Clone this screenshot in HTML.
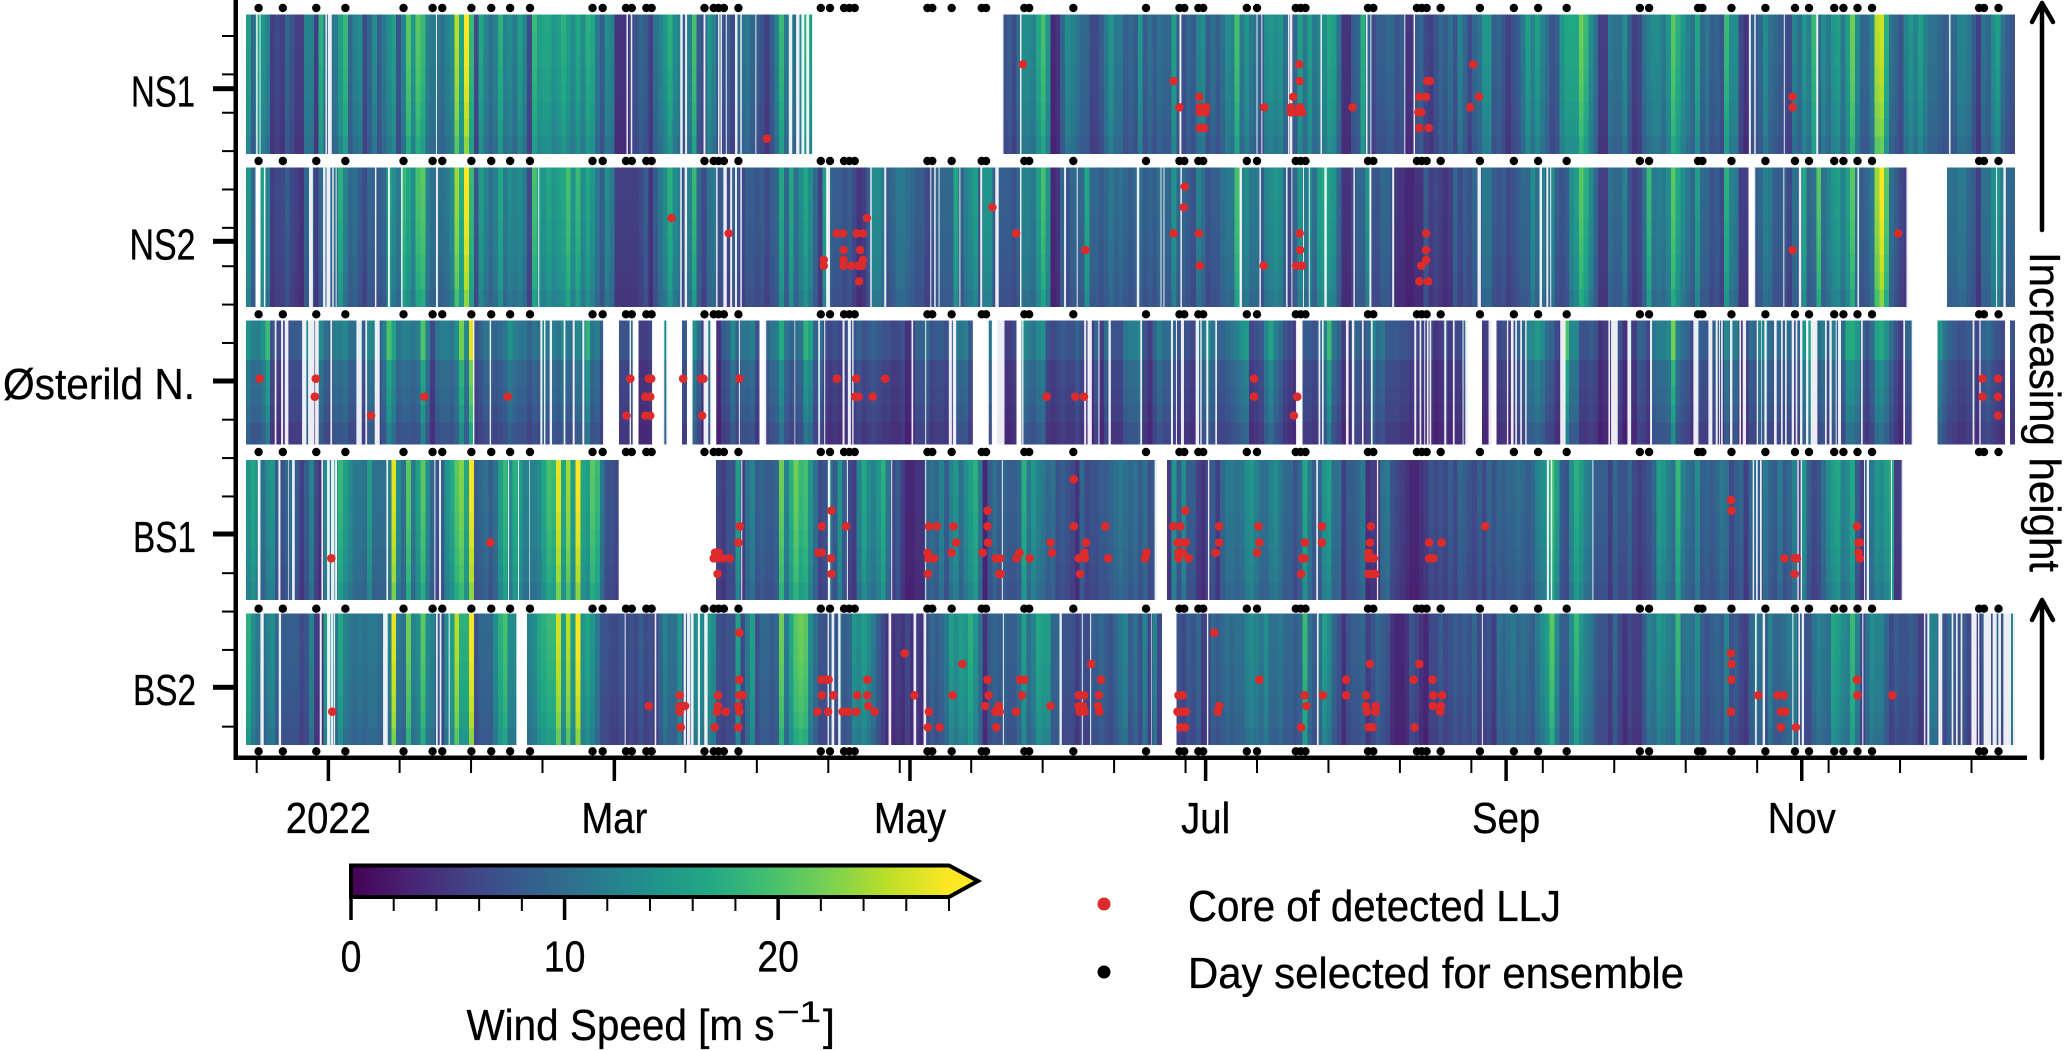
<!DOCTYPE html>
<html lang="en">
<head>
<meta charset="utf-8">
<title>Wind speed at five sites, 2022</title>
<style>
html,body{margin:0;padding:0;background:#fff;}
svg{display:block;}
text{font-family:"Liberation Sans",sans-serif;fill:#000;stroke:#000;stroke-width:0.35;}
</style>
</head>
<body>
<svg id="chart" xmlns="http://www.w3.org/2000/svg" width="2066" height="1051" viewBox="0 0 2066 1051">
  <defs>
    <linearGradient id="cbar-gradient" gradientUnits="userSpaceOnUse" x1="351" y1="0" x2="949" y2="0"></linearGradient>
  </defs>
  <g id="panels"></g>
  <g id="axes">
    <rect x="233.5" y="0" width="4.5" height="760" fill="#000"/>
    <rect x="233.5" y="755.5" width="1793.5" height="4.5" fill="#000"/>
    <text x="131" y="106.5" font-size="44" textLength="64" lengthAdjust="spacingAndGlyphs">NS1</text>
    <text x="129.5" y="259.5" font-size="44" textLength="66" lengthAdjust="spacingAndGlyphs">NS2</text>
    <text x="3" y="399" font-size="44" textLength="192" lengthAdjust="spacingAndGlyphs">Østerild N.</text>
    <text x="133" y="552" font-size="44" textLength="63" lengthAdjust="spacingAndGlyphs">BS1</text>
    <text x="133" y="705" font-size="44" textLength="63" lengthAdjust="spacingAndGlyphs">BS2</text>
  </g>
  <g>
    <path d="M2042 230 V3 M2032 22 L2042 3 L2053 22" fill="none" stroke="#000" stroke-width="4.5" stroke-linecap="round" stroke-linejoin="round"/>
    <path d="M2042 758 V600 M2032 620 L2042 600 L2053 620" fill="none" stroke="#000" stroke-width="4.5" stroke-linecap="round" stroke-linejoin="round"/>
    <text transform="translate(2030,252) rotate(90)" font-size="44" textLength="320" lengthAdjust="spacingAndGlyphs">Increasing height</text>
  </g>
  <g id="colorbar">
    <polygon points="351,865.5 949,865.5 978,881 949,897 351,897" fill="url(#cbar-gradient)" stroke="#000" stroke-width="4"/>
    <text x="466.5" y="1040" font-size="44" textLength="308" lengthAdjust="spacingAndGlyphs">Wind Speed [m s</text>
    <text x="777" y="1022" font-size="30" textLength="44" lengthAdjust="spacingAndGlyphs">−1</text>
    <text x="823" y="1040" font-size="44" textLength="12" lengthAdjust="spacingAndGlyphs">]</text>
  </g>
  <g>
    <circle cx="1104" cy="904" r="6.5" fill="#dd2a2a"/>
    <text x="1188" y="921" font-size="44" textLength="373" lengthAdjust="spacingAndGlyphs">Core of detected LLJ</text>
    <circle cx="1104" cy="972" r="6.5" fill="#000"/>
    <text x="1188" y="988" font-size="44" textLength="496" lengthAdjust="spacingAndGlyphs">Day selected for ensemble</text>
  </g>
</svg>
<script>
const _ = null;

/* Wind speed [m/s], one value per day, starting 17 days before 1 Jan 2022 */
const windNS1 = [
15,9,16,14,12,5,6,5,9,7, 5,5,12,12,5,17,10,10,11,15, 18,9,12,13,6,9,13,8,11,13, 15,7,12,20,14,20,18,12,11,11,
10,12,13,24,16,27,18,6,16,12, 10,12,17,12,13,11,15,12,6,18, 15,16,16,14,15,17,15,13,16,13, 17,16,11,8,13,12,4,4,4,6,
7,9,8,5,10,12,14,17,13,12, 8,12,19,8,6,14,12,8,7,8, 6,10,10,11,9,8,7,5,8,12, 18,11,12,10,13,17,15,
_,_,_, _,_,_,_,_,_,_,_,_,_, _,_,_,_,_,_,_,_,_,_, _,_,_,_,_,_,_,_,_,_, _,_,_,_,_,_,
7,8,6,10,13,13,12,16,19,14, 3,4,9,13,12,11,9,9,6,6, 8,11,14,11,11,
8,9,8,14,8,10,8,10,9,9, 15,8,7,9,8,12,13,8,10,8, 10,13,12,19,11,14,11,10,8,13, 14,13,14,10,6,9,15,11,15,11,
12,13,16,15,10,4,4,8,9,17, 9,6,8,8,9,9,7,8,4,4, 8,9,6,5,7,9,8,10,7,12, 9,6,9,10,14,14,8,9,7,5,
7,8,11,15,12,15,12,10,7,8, 14,16,16,16,21,18,13,10,5,5, 11,10,10,13,8,5,6,10,12,13, 13,11,14,20,17,14,12,10,16,9,
11,8,9,7,18,13,13,6,4,8, 8,9,13,10,9,8,7,6,12,10, 14,12,18,9,13,11,14,15,11,15, 21,13,9,9,12,24,25,17,10,9,
7,12,14,12,15,12,10,10,9,8, 9,9,12,12,11,8,5,10,9,13, 15,10,8,7];

const windNS2 = [
14,9,_,15,12,5,6,6,8,6, 5,4,9,10,5,9,9,9,10,17, 12,9,10,8,6,9,8,8,9,16, 13,11,18,16,13,19,20,12,10,10,
10,11,13,23,17,27,18,7,15,12, 10,12,16,11,13,12,13,11,6,19, 15,14,16,14,15,16,19,14,18,13, 16,14,11,8,13,11,5,5,5,5,
5,6,8,4,8,11,13,17,13,12, 7,12,18,9,6,10,11,7,8,6, 8,7,6,8,8,7,8,6,8,9, 16,9,16,10,13,16,13,
9,5,15, 9,8,8,7,8,6,4,5,8,13, 13,11,8,9,11,11,10,9,8,8, 6,7,9,9,9,9,16,8,12,13, 15,8,14,14,8,8,8,
8,7,9,12,12,11,15,19,14, 3,4,9,7,9,9,9,16,9,9, 8,9,11,9,10,
9,8,9,10,8,9,8,10,9,9, 14,9,9,8,7,12,10,7,8,8, 10,11,11,19,12,13,11,11,8,12, 13,14,13,9,6,9,14,11,13,10,
15,16,15,14,9,4,4,6,9,9, 14,7,7,9,9,7,4,4,3,3, 4,4,8,5,6,5,4,5,9,6, 8,7,9,8,11,11,8,7,8,6,
7,8,9,9,13,10,12,9,13,8, 7,8,13,15,20,17,13,9,5,5, 10,9,9,12,7,5,6,10,18,11, 12,11,13,20,16,13,11,9,15,9,
9,7,8,6,17,12,11,5,5,_, 8,9,12,11,8,8,8,6,10,9, 16,9,10,20,10,12,14,15,12,15, 20,10,8,9,11,23,27,20,10,8,
6,5,_,_,_,_,_,_,_,_, 10,10,11,11,9,8,5,10,10,13, 14,11,9,9];

const windOsterild = [
14,12,12,14,19,7,6,6,6,8, 8,8,13,9,6,13,10,9,12,12, 13,10,10,10,8,13,12,8,12,20, 16,11,12,12,11,12,20,12,6,11,
12,12,11,14,22,13,27,7,9,11, 10,9,10,11,14,12,11,11,9,11, 10,13,11,12,11,13,11,10,13,12, 18,11,12,8,_,_,_,7,7,9,
_,5,5,6,_,_,14,_,_,_, 8,_,14,10,5,12,_,4,8,9, 13,9,11,11,12,7,_,9,11,12, 17,11,9,10,11,18,16,9,11,7,
6,7,6,6,8,7,9,7,8,9, 8,7,7,6,6,7,4,5,9,9, 10,7,8,8,7,8,12,11,12,8, _,_,_,11,_,7,5,5,6,_,
13,12,11,13,14,7,6,7,8,7, 7,9,7,6,5,9,5,10,7,7, 7,11,12,12,13,7,5,9,12,10, 10,9,7,7,7,6,11,11,13,11,
9,9,10,11,12,14,15,6,7,8, 13,16,12,10,7,6,5,_,8,8, 7,9,12,19,11,9,5,5,9,9, 7,9,13,10,11,8,8,8,7,7,
6,6,6,6,6,4,5,7,5,6, 6,9,_,_,_,5,5,_,6,7, 5,7,9,9,13,13,15,13,10,9, 6,5,20,13,13,7,7,8,7,4,
5,5,6,7,4,8,5,9,8,6, 11,12,12,13,22,12,10,9,6,10, 8,8,8,10,7,13,11,12,5,6, 10,9,13,12,10,9,10,9,10,7,
9,14,16,10,10,12,8,12,9,10, 17,17,15,9,7,10,16,17,14,10, 7,5,9,9,_,_,_,_,_,14, 11,9,8,7,7,8,7,6,9,10,
8,7,6,_,7];

const windBS1 = [
14,16,13,10,13,14,8,7,9,10, 8,5,8,12,6,4,13,12,12,18, 15,13,11,11,10,15,10,10,10,12, 26,13,10,20,11,15,20,13,9,7,
8,14,16,20,22,16,27,8,9,10, 8,10,15,18,13,17,15,12,12,12, 13,16,19,18,26,16,23,15,27,16, 15,20,18,11,7,7,6,
_,_,_, _,_,_,_,_,_,_,_,_,_, _,_,_,_,_,_,_,
6,5,7,7,15,5,10,12,8,9,8,8,9, 21,12,17,21,18,19,14,10,6,7,
11,8,14,8,6,5,12,16,13,12, 14,17,11,6,8,5,3,3,4,4, 9,10,9,12,8,12,14,10,13,15, 17,11,3,8,10,8,9,8,8,9,
17,11,14,12,11,9,10,7,8,7, 6,4,9,6,7,7,8,8,9,10, 11,10,9,10,8,10,7,8,_,_, 5,14,8,13,8,8,5,4,6,8,
5,9,11,11,10,11,13,14,12,10, 10,12,13,11,9,9,7,9,16,11, 8,9,14,15,10,10,5,8,8,9, 11,4,5,4,10,11,7,6,5,4,
3,3,4,5,7,6,7,6,8,6, 9,8,7,6,8,6,9,7,9,8, 9,9,10,9,8,9,12,13,14,19, 15,8,7,13,17,15,12,11,8,8,
8,5,9,7,7,9,6,5,6,7, 9,15,14,12,10,18,12,10,9,13, 8,9,8,9,11,10,6,8,9,5, 9,10,8,11,9,8,11,8,9,12,
6,14,8,6,7,10,13,15,16,12, 13,16,8,5,8,11,14,13,15,17,5,5,
_,_,_,_,_,_,_,_, _,_,_,_,_,_,_,_,_,_,_,_,_,_,_];

const windBS2 = [
17,13,11,9,12,13,9,8,8,8, 8,6,7,12,5,4,15,12,11,16, 12,11,10,11,10,11,11,10,9,12, 26,11,10,21,12,13,20,13,12,8,
7,13,15,24,17,17,27,7,9,9, 9,13,17,19,13,13,_,_,12,13, 16,17,18,18,25,15,24,15,27,14, 16,14,11,7,7,6,6,7,6,7,
6,8,6,7,5,9,12,10,10,14, 8,10,13,14,12,14,13,7,6,7, 7,15,6,11,15,7,9,9,8,9, 21,11,16,20,21,20,13,10,7,7,
8,7,10,8,9,14,13,15,13,11, 8,6,4,4,5,4,6,4,5,4, 7,9,8,9,11,15,13,15,14,17, 14,10,4,8,9,8,9,8,8,10,
15,10,12,16,15,15,9,9,7,7, 7,5,7,6,8,8,9,8,7,9, 11,12,8,10,7,12,6,12,6,_, _,_,7,6,8,7,9,5,6,9,
8,9,10,9,10,10,12,13,12,11, 13,10,10,11,9,9,8,9,18,10, 8,10,15,13,9,7,4,7,8,8, 9,5,7,9,8,7,4,3,3,4,
7,6,4,3,6,6,8,6,7,8, 7,8,7,9,6,6,7,5,10,9, 10,11,9,10,9,8,11,13,15,20, 13,8,8,13,18,14,12,11,8,7,
7,5,9,6,4,6,5,5,8,12, 11,14,13,12,11,18,10,11,10,13, 8,7,8,9,8,12,7,8,6,5, 9,11,10,8,12,9,9,10,11,12,
8,7,7,10,12,11,10,16,15,13, 12,18,12,6,10,13,12,12,9,6, 8,7,7,8,7,5,6,12,12,7, 7,9,8,7,8,6,8,5,8,5,
7,9,7,8,12];

/* Relative wind speed by height band, top to bottom */
const profileOffshore = [1.04,1.03,1.02,1.0,0.98,0.95,0.92,0.86];
const profileOsterild = [1.0,0.82,0.78,0.72,0.62];
/* Height-band edges as a fraction of panel height, top to bottom */
const bandsOffshore = [0,0.125,0.25,0.375,0.5,0.625,0.75,0.875,1];
const bandsOsterild = [0,0.318,0.534,0.682,0.825,1];

/* Missing-data spans [start day, end day], days since 1 Jan 2022 */
const gapsNS1 = [[-14.9,-14.6],[-14.2,-14],[-0.6,-0.3],[-0.1,0.7],[22.2,22.4],[61.5,61.8],[62.4,62.7],[72.6,73.1],[73.6,74],[77.4,77.8],[80.4,80.7],[80.9,81.2],[82,82.2],[83.9,84.4],[85,85.3],[88.1,88.3],[95,95.7],[96.5,97.2],[97.6,98.2],[98.6,99.2],[99.8,139.3],[142.7,143],[175.6,176],[191.5,191.7],[192.5,192.7],[198,198.2],[198.3,198.9],[204.7,205],[214.1,214.4],[215,215.2],[222,222.2],[223.9,224.2],[293.1,293.5],[294.2,294.5],[300.3,300.5],[307,307.4],[334.4,334.7]];
const gapsNS2 = [[-14.9,-14.4],[-13.3,-13],[-4,-3.2],[-1.1,-0.6],[-0.4,0.4],[0.8,1.1],[1.5,1.7],[9.6,9.9],[12.3,12.7],[15,15.3],[22.2,22.6],[43.3,43.5],[72.6,72.9],[73.5,74],[80,80.3],[81.5,82.2],[82.9,83.3],[83.9,84.3],[85,85.3],[102.7,103.5],[111.8,112.1],[114.7,115.1],[124.2,124.4],[125,125.3],[125.9,126.1],[130.2,130.4],[134.5,134.9],[137.6,138.3],[142.7,143],[151.8,152.2],[154.4,154.6],[166.8,167.3],[171.7,171.9],[172.3,172.5],[175.8,176.1],[188,188.5],[192.1,192.4],[197.6,197.9],[198.7,198.9],[201.1,201.3],[202.3,202.5],[205.5,206],[211.5,211.8],[214.8,215.2],[219.5,219.9],[237.1,237.8],[249.9,250.4],[251.3,251.7],[252.1,252.3],[293.1,294.4],[300.2,300.4],[303.4,303.9],[315.5,315.8],[325.6,333.6],[344.1,344.3],[345.6,346.1]];
const gapsOsterild = [[-11.07,-10.72],[-9.76,-9.35],[-9,-8.25],[-5.43,-4.54],[-4.19,-2.88],[-2.75,-2],[0.42,0.76],[5.78,6.88],[7.63,7.98],[9.56,10.59],[29.84,30.12],[33.28,33.56],[43.73,44.15],[44.49,44.77],[45.66,46.14],[48.55,48.89],[50.4,50.82],[52.4,52.81],[56.66,59.34],[62.16,62.44],[62.78,63.47],[66.77,69.31],[69.72,72.96],[73.99,75.14],[77.41,78.38],[78.79,80.03],[84.7,84.91],[89.31,90.34],[96.18,96.32],[101.07,101.41],[102.3,102.51],[106.09,106.5],[107.19,107.8],[108.08,108.36],[120.32,120.66],[123.14,123.34],[128.02,128.64],[128.85,129.53],[132.97,136.27],[136.89,137.58],[137.78,139.5],[142.05,142.87],[143.15,143.42],[155.94,156.35],[156.63,157.52],[158.89,159.1],[160.96,161.44],[167.53,167.87],[173.85,174.26],[174.88,175.09],[175.91,176.53],[178.94,179.63],[179.9,180.18],[181.14,181.55],[183,183.34],[199.64,200.87],[204.31,204.66],[205,205.34],[209.95,210.5],[211.19,211.67],[213.25,213.6],[215.11,215.45],[224.05,224.46],[225.15,225.49],[226.11,226.31],[226.66,227],[227.21,227.55],[230.24,230.65],[232.02,232.37],[234.02,234.22],[234.57,236.63],[236.97,237.8],[239.38,240.34],[243.16,243.44],[243.99,244.54],[244.88,245.22],[245.91,246.26],[246.94,247.22],[254.16,255.26],[264.11,264.45],[264.66,266.03],[268.03,268.78],[272.7,273.11],[281.64,282.67],[284.74,285.56],[286.25,286.66],[286.94,287.14],[287.35,287.69],[289.2,289.69],[291.13,291.47],[291.82,292.51],[294.71,294.98],[295.6,295.74],[296.29,296.77],[298.28,298.83],[299.73,300.07],[300.55,300.89],[301.93,302.41],[302.75,303.09],[303.64,304.13],[304.88,305.36],[305.85,307.22],[308.8,309.15],[309.7,310.18],[311,311.21],[311.48,312.1],[316.23,316.57],[324.96,325.3],[326.68,331.15],[339.26,339.61],[340.64,340.91],[345.93,346.96]];
const gapsBS1 = [[-14.57,-14.02],[-10.31,-9.9],[-8.32,-8.18],[-7.49,-6.94],[-1.44,-1.1],[-0.27,0.28],[0.55,1.24],[1.38,1.79],[11.97,12.31],[21.87,22.08],[22.83,23.24],[37.07,37.27],[39.13,39.33],[41.4,41.53],[59.89,79.6],[85.18,85.39],[103.06,103.54],[106.98,107.19],[116.13,116.33],[123.14,123.34],[138.95,139.16],[170.48,172.55],[181.48,181.76],[203.83,204.17],[216.34,216.62],[251.41,251.83],[252.24,252.51],[260.81,261.01],[293.88,294.16],[294.57,294.91],[295.39,295.74],[303.09,303.37],[303.78,304.06],[316.85,317.05],[317.4,317.88],[322.42,322.62],[324.62,348]];
const gapsBS2 = [[-14.02,-13.34],[-10.24,-9.76],[-1.79,-1.37],[-0.27,0.42],[0.55,0.97],[1.1,1.38],[11.28,12.24],[22.21,22.56],[22.97,23.31],[24.82,25.03],[38.78,40.85],[61.13,61.34],[67.32,67.66],[73.3,73.78],[73.99,74.67],[74.8,75.35],[76.24,76.66],[77.55,78.24],[103,103.27],[103.82,104.37],[105.19,105.67],[115.58,116.13],[120.73,121.28],[122.8,123.34],[139.16,139.37],[150.85,151.33],[155.46,155.66],[157.17,157.38],[169.73,169.86],[172.68,174.54],[181.28,181.55],[203.97,204.31],[238,238.21],[294.36,294.71],[295.94,296.42],[302.06,302.27],[303.3,303.64],[304,304.47],[316.5,316.71],[329.22,329.5],[329.9,330.32],[332.18,333],[334.93,335.27],[335.82,336.17],[336.79,337.13],[339,340.09],[340.36,340.64],[341.53,343.05],[343.39,344.21],[344.56,345.1],[345.6,347.17],[347.58,348]];

/* Detected LLJ cores [day, height as % of panel] */
const lljNS1 = [[90.5,11],[143.3,64.4],[174.4,52.4],[179.7,41.1],[175.6,33.5],[179.8,33.5],[180.5,33.5],[181.1,33.5],[179.8,29.9],[181,29.9],[179.8,18.7],[180.7,18.7],[193.1,33.5],[200.3,64.4],[200.4,52.4],[199.1,41.1],[198.6,33.5],[200.5,33.5],[198.6,29.9],[199.7,29.9],[200.9,29.9],[211.3,33.5],[236.2,64.4],[237.4,41.1],[235.6,33.5],[226.7,52.4],[227.3,52.4],[225.1,41.1],[226.5,41.1],[224.9,29.9],[225.5,29.9],[225.1,18.7],[227,18.7],[302.1,41.1],[302.1,33.5]];
const lljNS2 = [[70.8,63.7],[82.6,52.7],[137,71.4],[141.9,52.7],[156.2,40.8],[111.1,63.7],[104.9,52.7],[106.2,52.7],[109,52.7],[110.3,52.7],[106.3,40.8],[109.7,40.8],[102.2,33.7],[102.2,29.6],[106.3,33.7],[106.3,29.6],[107.9,29.6],[109.4,29.6],[110.3,33.7],[110.1,29.6],[109.5,18.4],[176.7,86.2],[176.5,71.4],[174.4,52.7],[179.6,52.7],[179.8,29.6],[193,29.6],[200.4,52.7],[200.5,40.8],[199.7,29.6],[200.9,29.6],[226.5,52.7],[226.5,40.8],[226.5,33.7],[225.5,29.6],[225.1,18.4],[226.9,18.4],[302.1,40.8],[323.9,52.7]];
const lljOsterild = [[-14.2,53.1],[-2.6,53.1],[-2.8,38.5],[8.8,23.2],[19.8,38.5],[37,38.5],[62.3,53.1],[66.1,53.1],[66.6,53.1],[65.4,38.5],[66.4,38.5],[61.5,23.2],[65.4,23.2],[66.4,23.2],[73.2,53.1],[76.9,53.1],[77.4,53.1],[77.1,23.2],[84.8,53.1],[104.9,53.1],[108.9,53.1],[114.9,53.1],[108.7,38.5],[109.4,38.5],[112.3,38.5],[148.2,38.5],[154.1,38.5],[155.9,38.5],[191,53.1],[191,38.5],[199.9,38.5],[199.2,23.2],[341.3,53.1],[344.5,53.1],[341.3,38.5],[344.5,38.5],[344.5,23.2]];
const lljBS1 = [[0.6,29.8],[33.4,41],[84.9,52.6],[84.6,41],[101.8,52.6],[103.8,63.8],[106.8,52.6],[123.9,52.6],[125.5,52.6],[129,52.6],[129.5,41],[136,63.8],[136,52.6],[136.1,41],[153.8,86.2],[153.8,52.6],[160.3,52.6],[156.3,41],[149,41],[79.8,33.8],[80.5,33.8],[101.1,33.8],[101.8,33.8],[123.6,33.8],[128.6,33.8],[135,33.8],[142.6,33.8],[149.3,33.8],[156,33.8],[79.5,29.8],[80.3,29.8],[81.4,29.8],[82.8,29.8],[103.7,29.8],[123.8,29.8],[125,29.8],[137.7,29.8],[138.6,29.8],[142,29.8],[144.7,29.8],[154.8,29.8],[156.1,29.8],[160.9,29.8],[80.3,18.6],[103.8,18.6],[123.7,18.6],[138.4,18.6],[138.7,18.6],[155.1,18.6],[176.8,63.8],[174.3,52.6],[175.8,52.6],[183.8,52.6],[191.9,52.6],[205,52.6],[215.1,52.6],[238.7,52.6],[175.2,41],[175.9,41],[176.9,41],[183.8,41],[192.1,41],[201.5,41],[205,41],[214.9,41],[227.1,41],[229.7,41],[168.8,33.8],[175.4,33.8],[176.3,33.8],[183.1,33.8],[191.6,33.8],[214.6,33.8],[168.5,29.8],[175.4,29.8],[177.5,29.8],[200.9,29.8],[201.4,29.8],[214.6,29.8],[215.7,29.8],[227.1,29.8],[228,29.8],[200.7,18.6],[214.6,18.6],[216,18.6],[215.3,18.6],[289.4,71.4],[289.5,63.8],[300.4,29.8],[302.5,29.8],[303,29.8],[302.5,18.6],[315.4,52.6],[315.7,41],[316,41],[315.7,33.8],[316,29.8]];
const lljBS2 = [[0.8,25.3],[66.1,29.6],[72.5,37.7],[72.5,29.6],[73.6,29.6],[72.5,25.3],[72.7,13.4],[84.8,85.3],[118.9,69.6],[130.8,61.5],[157.4,61.5],[84.8,49.6],[101.7,49.6],[102.5,49.6],[103.2,49.6],[111.2,49.6],[136,49.6],[142.7,49.6],[143.6,49.6],[159.4,49.6],[80.4,37.7],[84.8,37.7],[85.5,37.7],[101.8,37.7],[104.2,37.7],[109.1,37.7],[111.2,37.7],[120.9,37.7],[128.8,37.7],[136.2,37.7],[143.1,37.7],[154.8,37.7],[155.9,37.7],[159,37.7],[80.4,29.6],[84.6,29.6],[111.4,29.6],[135.5,29.6],[138.3,29.6],[149,29.6],[154.8,29.6],[155.7,29.6],[158.8,29.6],[80.2,25.3],[82,25.3],[84.8,25.3],[100.9,25.3],[103.1,25.3],[106.1,25.3],[107.2,25.3],[108.9,25.3],[112.7,25.3],[123.9,25.3],[137.6,25.3],[138.5,25.3],[141.9,25.3],[155,25.3],[156,25.3],[159.1,25.3],[79.7,13.4],[84.6,13.4],[123.7,13.4],[126.1,13.4],[137.8,13.4],[182.8,85.3],[214.9,61.5],[225.1,61.5],[192.1,49.6],[210,49.6],[223.9,49.6],[227.8,49.6],[175.4,37.7],[176.3,37.7],[201.4,37.7],[205.2,37.7],[210,37.7],[214.1,37.7],[228,37.7],[229.8,37.7],[183.8,29.6],[201.8,29.6],[214.1,29.6],[216.1,29.6],[227.9,29.6],[229.5,29.6],[175.2,25.3],[176.1,25.3],[176.9,25.3],[183.5,25.3],[214.3,25.3],[216.1,25.3],[229.4,25.3],[175.8,13.4],[176.8,13.4],[200.7,13.4],[214.6,13.4],[215.5,13.4],[224.1,13.4],[289.4,69.6],[289.5,61.5],[289.5,49.6],[289.4,25.3],[295,37.7],[299,37.7],[300.3,37.7],[299.7,25.3],[300.6,25.3],[299.7,13.4],[302.8,13.4],[315.4,49.6],[315.5,37.7],[322.7,37.7]];

/* Days selected for the ensemble, days since 1 Jan 2022 */
const ensembleDays = [-14.4,-9.4,-2.5,3.5,15.5,21.5,23.5,29.5,33.6,37.5,41.6,54.5,56.6,61.4,62.6,65.6,66.7,77.6,79.5,80.5,81.6,84.6,101.6,103.5,106.4,107.5,108.6,123.6,124.6,128.6,134.8,135.7,143.6,144.6,153.7,168.7,175.6,176.6,179.5,180.5,189.5,191.6,199.6,200.6,201.6,214.5,215.6,224.6,225.6,226.6,229.5,237.6,244.6,249.6,255.5,270.6,272.5,282.6,283.5,289.5,296.5,302.6,305.5,310.7,312.6,315.5,318.5,340.6,341.6,344.6];

/* Axis labels and ticks */
const xTickDays = [0,59,120,181,243,304];
const xTickLabels = ["2022","Mar","May","Jul","Sep","Nov"];
const cbarMajorTicks = [0,10,20];
const cbarMinorTicks = [2,4,6,8,12,14,16,18,22,24,26,28];
const viridisStops = ["#440154","#482475","#414487","#355f8d","#2a788e","#21918c","#22a884","#44bf70","#7ad151","#bddf26","#fde725"];

const SVG_NS = "http://www.w3.org/2000/svg";
const DAY_MIN = -17, DAY_MAX = 348, PX_LEFT = 246, PX_RIGHT = 2015;
const CBAR_MAX = 28, CBAR_LEFT = 351, CBAR_RIGHT = 949;
function xScale(d){ return PX_LEFT + (d - DAY_MIN) * (PX_RIGHT - PX_LEFT) / (DAY_MAX - DAY_MIN); }
function cbarScale(v){ return CBAR_LEFT + v * (CBAR_RIGHT - CBAR_LEFT) / CBAR_MAX; }
function hexToRgb(h){ return [parseInt(h.substr(1,2),16),parseInt(h.substr(3,2),16),parseInt(h.substr(5,2),16)]; }
function colorFor(v){
  const t = Math.max(0, Math.min(1, v / CBAR_MAX)) * (viridisStops.length - 1);
  const k = Math.min(Math.floor(t), viridisStops.length - 2);
  const a = hexToRgb(viridisStops[k]), b = hexToRgb(viridisStops[k + 1]), f = t - k;
  return "rgb(" + a.map((c, j) => Math.round(c + (b[j] - c) * f)).join(",") + ")";
}
function svgEl(tag, parent){
  const el = document.createElementNS(SVG_NS, tag);
  parent.appendChild(el);
  return el;
}

const panelDefs = [
  {name:"ns1", top:14.7, bottom:154, wind:windNS1, gaps:gapsNS1, llj:lljNS1, profile:profileOffshore, bands:bandsOffshore},
  {name:"ns2", top:167.3, bottom:307, wind:windNS2, gaps:gapsNS2, llj:lljNS2, profile:profileOffshore, bands:bandsOffshore},
  {name:"osterild", top:320.7, bottom:444.3, wind:windOsterild, gaps:gapsOsterild, llj:lljOsterild, profile:profileOsterild, bands:bandsOsterild},
  {name:"bs1", top:460, bottom:600, wind:windBS1, gaps:gapsBS1, llj:lljBS1, profile:profileOffshore, bands:bandsOffshore},
  {name:"bs2", top:613.3, bottom:745, wind:windBS2, gaps:gapsBS2, llj:lljBS2, profile:profileOffshore, bands:bandsOffshore}
];
const ensembleRowsY = [8,161,314.3,452,608.7,751.3];

const panelsRoot = document.getElementById("panels");
panelDefs.forEach(function(p){
  const g = svgEl("g", panelsRoot);
  
  
  const h = p.bottom - p.top;
  p.wind.forEach(function(v, i){
    if (v === null) return;
    const x0 = xScale(DAY_MIN + i), x1 = xScale(DAY_MIN + i + 1);
    p.profile.forEach(function(factor, r){
      const cell = svgEl("rect", g);
      
      
      cell.setAttribute("x", x0);
      cell.setAttribute("width", x1 - x0);
      cell.setAttribute("y", p.top + p.bands[r] * h);
      cell.setAttribute("height", (p.bands[r + 1] - p.bands[r]) * h);
      cell.setAttribute("fill", colorFor(v * factor));
      cell.setAttribute("shape-rendering", "crispEdges");
    });
  });
  p.gaps.forEach(function(span){
    const gap = svgEl("rect", g);
    
    
    gap.setAttribute("x", xScale(span[0]));
    gap.setAttribute("width", xScale(span[1]) - xScale(span[0]));
    gap.setAttribute("y", p.top - 0.5);
    gap.setAttribute("height", h + 1);
    gap.setAttribute("fill", "#fff");
    gap.setAttribute("fill-opacity", "0.9");
  });
});

panelDefs.forEach(function(p){
  const g = svgEl("g", panelsRoot);
  
  
  const h = p.bottom - p.top;
  p.llj.forEach(function(pt){
    const dot = svgEl("circle", g);
    
    
    dot.setAttribute("cx", xScale(pt[0]));
    dot.setAttribute("cy", p.bottom - pt[1] / 100 * h);
    dot.setAttribute("r", 4.3);
    dot.setAttribute("fill", "#dd2a2a");
  });
});

ensembleRowsY.forEach(function(y){
  const g = svgEl("g", panelsRoot);
  
  
  ensembleDays.forEach(function(d){
    const dot = svgEl("circle", g);
    
    
    dot.setAttribute("cx", xScale(d));
    dot.setAttribute("cy", y);
    dot.setAttribute("r", 4.2);
    dot.setAttribute("fill", "#000");
  });
});

const axes = document.getElementById("axes");
xTickDays.forEach(function(d, i){
  const tick = svgEl("rect", axes);
  
  
  tick.setAttribute("x", xScale(d) - 1.75);
  tick.setAttribute("y", 758);
  tick.setAttribute("width", 3.5);
  tick.setAttribute("height", 23);
  tick.setAttribute("fill", "#000");
  const label = svgEl("text", axes);
  
  
  label.setAttribute("x", xScale(d));
  label.setAttribute("y", 833);
  label.setAttribute("font-size", 44);
  label.setAttribute("text-anchor", "middle");
  label.textContent = xTickLabels[i];
  label.setAttribute("textLength", label.getComputedTextLength() * 0.87);
  label.setAttribute("lengthAdjust", "spacingAndGlyphs");
});
for (let k = 0; k < 25; k++) {
  const tick = svgEl("rect", axes);
  
  
  tick.setAttribute("x", 256.7 + 71.45 * k - 1);
  tick.setAttribute("y", 758);
  tick.setAttribute("width", 2);
  tick.setAttribute("height", 15);
  tick.setAttribute("fill", "#000");
}
for (let k = 0; k < 19; k++) {
  const tick = svgEl("rect", axes);
  
  
  tick.setAttribute("x", 222);
  tick.setAttribute("y", 36 + 38.37 * k - 1);
  tick.setAttribute("width", 13);
  tick.setAttribute("height", 2);
  tick.setAttribute("fill", "#000");
}
panelDefs.forEach(function(p, i){
  const tick = svgEl("rect", axes);
  
  
  tick.setAttribute("x", 213);
  tick.setAttribute("y", [88.7,241.3,381,534,687.3][i] - 2.5);
  tick.setAttribute("width", 22);
  tick.setAttribute("height", 5);
  tick.setAttribute("fill", "#000");
});

const grad = document.getElementById("cbar-gradient");
viridisStops.forEach(function(c, i){
  const stop = svgEl("stop", grad);
  stop.setAttribute("offset", i / (viridisStops.length - 1));
  stop.setAttribute("stop-color", c);
});

const cbar = document.getElementById("colorbar");
cbarMajorTicks.forEach(function(v){
  const tick = svgEl("rect", cbar);
  
  
  tick.setAttribute("x", cbarScale(v) - 1.75);
  tick.setAttribute("y", 897);
  tick.setAttribute("width", 3.5);
  tick.setAttribute("height", 23);
  tick.setAttribute("fill", "#000");
  const label = svgEl("text", cbar);
  
  
  label.setAttribute("x", cbarScale(v));
  label.setAttribute("y", 971.5);
  label.setAttribute("font-size", 44);
  label.setAttribute("text-anchor", "middle");
  label.textContent = String(v);
  label.setAttribute("textLength", label.getComputedTextLength() * 0.85);
  label.setAttribute("lengthAdjust", "spacingAndGlyphs");
});
cbarMinorTicks.forEach(function(v){
  const tick = svgEl("rect", cbar);
  
  
  tick.setAttribute("x", cbarScale(v) - 1);
  tick.setAttribute("y", 897);
  tick.setAttribute("width", 2);
  tick.setAttribute("height", 14);
  tick.setAttribute("fill", "#000");
});
</script>
</body>
</html>
